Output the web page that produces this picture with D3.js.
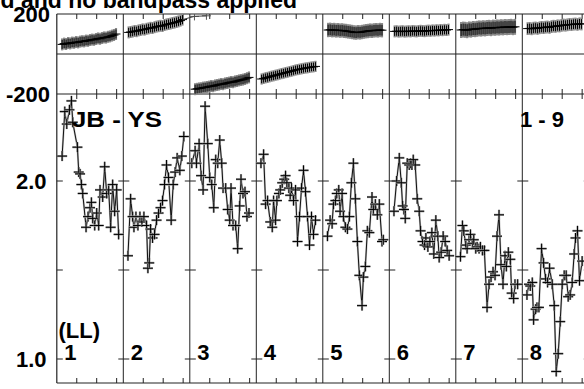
<!DOCTYPE html>
<html><head><meta charset="utf-8">
<script src="https://cdn.jsdelivr.net/npm/d3@7"></script>
<style>
body{margin:0;background:#fff}
svg{display:block}
text{font-family:"Liberation Sans",Arial,Helvetica,sans-serif;font-weight:bold;fill:#000}
</style>
</head><body><svg id="c" width="584" height="389"></svg>
<script>
// ---------- text ----------
const titleText = "d and no bandpass applied";
const baselineLabel = "JB - YS";
const channelLabel = "1 - 9";
const polLabel = "(LL)";
const panelLabels = ["1","2","3","4","5","6","7","8","9"];

// ---------- axes ----------
const phaseDomain = [-200, 200];
const phaseTickLabels = [200, -200];
const ampDomainRef = [1.0, 2.0];
const ampTicks = [1.0, 1.5, 2.0];
const ampTickLabels = [1.0, 2.0];
const timeTicks = [0.3, 0.6, 0.9];

// ---------- amplitude data: [time within panel (0-1), amplitude] ----------
const ampP1 = [[0.08,2.14],[0.12,2.39],[0.15,2.32],[0.19,2.40],[0.22,2.45],[0.24,2.33],[0.31,2.19],[0.33,2.05],[0.35,2.04],[0.37,1.98],[0.39,1.93],[0.44,1.74],[0.47,1.80],[0.50,1.85],[0.52,1.88],[0.54,1.79],[0.57,1.75],[0.60,1.82],[0.63,1.75],[0.65,1.95],[0.69,1.91],[0.72,2.08],[0.75,1.93],[0.78,1.95],[0.81,1.74],[0.84,1.98],[0.87,1.83],[0.90,1.95],[0.93,1.70]];
const ampP2 = [[0.07,1.58],[0.11,1.90],[0.14,1.80],[0.16,1.74],[0.19,1.80],[0.22,1.75],[0.25,1.80],[0.28,1.77],[0.31,1.80],[0.35,1.75],[0.37,1.51],[0.39,1.54],[0.41,1.73],[0.44,1.68],[0.47,1.70],[0.50,1.78],[0.53,1.82],[0.56,1.85],[0.59,1.89],[0.62,1.98],[0.65,2.09],[0.68,2.02],[0.72,1.78],[0.75,1.98],[0.78,2.05],[0.81,2.13],[0.85,2.06],[0.88,2.14],[0.91,2.25]];
const ampP3 = [[0.03,2.10],[0.08,2.17],[0.10,2.10],[0.14,2.21],[0.17,2.03],[0.20,1.95],[0.23,2.42],[0.27,2.21],[0.30,2.02],[0.33,1.98],[0.36,1.85],[0.39,2.12],[0.42,2.10],[0.45,2.23],[0.48,2.10],[0.50,1.96],[0.54,1.96],[0.57,1.84],[0.60,1.78],[0.62,1.96],[0.65,1.75],[0.69,1.75],[0.72,1.62],[0.75,1.86],[0.77,2.01],[0.80,1.93],[0.83,1.94],[0.86,1.80],[0.89,1.82]];
const ampP4 = [[0.07,2.10],[0.11,2.15],[0.14,1.87],[0.17,1.89],[0.21,1.77],[0.24,1.74],[0.26,1.89],[0.29,1.78],[0.31,1.89],[0.34,1.93],[0.36,1.95],[0.39,1.99],[0.42,2.01],[0.44,2.03],[0.46,1.99],[0.49,1.96],[0.51,1.92],[0.53,1.96],[0.56,1.89],[0.59,1.95],[0.62,1.66],[0.65,1.80],[0.68,1.96],[0.71,2.06],[0.74,1.94],[0.77,1.80],[0.80,1.64],[0.83,1.80],[0.86,1.70],[0.89,1.78]];
const ampP5 = [[0.07,1.69],[0.11,1.78],[0.14,1.76],[0.16,1.87],[0.19,1.89],[0.21,1.93],[0.24,1.95],[0.26,1.83],[0.29,1.93],[0.31,1.80],[0.34,1.74],[0.37,1.73],[0.40,1.80],[0.43,1.99],[0.46,2.10],[0.49,1.90],[0.52,1.66],[0.55,1.47],[0.59,1.30],[0.61,1.46],[0.64,1.52],[0.67,1.72],[0.70,1.71],[0.74,1.91],[0.76,1.84],[0.79,1.87],[0.82,1.81],[0.85,1.87],[0.89,1.66],[0.91,1.67]];
const ampP6 = [[0.07,1.83],[0.11,2.00],[0.15,2.13],[0.18,1.99],[0.20,1.86],[0.22,1.84],[0.24,1.79],[0.27,2.10],[0.30,2.09],[0.32,2.10],[0.34,2.09],[0.36,2.12],[0.39,2.09],[0.42,1.90],[0.45,1.83],[0.47,1.72],[0.50,1.66],[0.53,1.64],[0.55,1.68],[0.58,1.63],[0.61,1.66],[0.64,1.71],[0.67,1.59],[0.70,1.78],[0.73,1.69],[0.75,1.57],[0.78,1.60],[0.81,1.69],[0.84,1.66],[0.87,1.61],[0.90,1.58]];
const ampP7 = [[0.07,1.575],[0.10,1.75],[0.12,1.72],[0.15,1.64],[0.17,1.62],[0.20,1.67],[0.22,1.70],[0.25,1.65],[0.27,1.67],[0.30,1.62],[0.32,1.63],[0.35,1.62],[0.37,1.63],[0.40,1.61],[0.43,1.61],[0.47,1.29],[0.50,1.42],[0.53,1.46],[0.56,1.49],[0.59,1.47],[0.62,1.69],[0.65,1.81],[0.68,1.53],[0.71,1.42],[0.74,1.58],[0.76,1.52],[0.79,1.60],[0.82,1.56],[0.84,1.37],[0.87,1.34],[0.89,1.42],[0.93,1.42]];
const ampP8 = [[0.07,1.36],[0.10,1.42],[0.12,1.41],[0.15,1.43],[0.17,1.22],[0.20,1.28],[0.22,1.29],[0.25,1.29],[0.29,1.62],[0.32,1.54],[0.35,1.45],[0.38,1.43],[0.41,1.51],[0.45,1.42],[0.48,1.30],[0.51,0.93],[0.54,1.03],[0.57,1.21],[0.60,1.42],[0.63,1.47],[0.66,1.47],[0.69,1.35],[0.72,1.36],[0.75,1.43],[0.78,1.59],[0.80,1.68],[0.83,1.72],[0.86,1.44],[0.90,1.55]];
const ampSeries = [ampP1, ampP2, ampP3, ampP4, ampP5, ampP6, ampP7, ampP8];

// ---------- phase data (degrees), shared sampling times within each panel ----------
const phaseTimes = [0.08,0.11,0.14,0.17,0.20,0.23,0.26,0.29,0.32,0.35,0.38,0.41,0.44,0.47,0.50,0.53,0.56,0.59,0.62,0.65,0.68,0.71,0.74,0.77,0.80,0.83,0.86,0.89];
const phaseP1 = [48,52,50,55,53,57,56,60,58,62,64,63,67,66,70,72,71,75,78,76,80,83,82,86,88,92,95,100];
const phaseP2 = [108,110,112,115,114,118,120,123,122,126,128,131,130,134,137,139,141,140,145,148,150,152,155,157,160,163,167,172];
const phaseP3 = [-176,-174,-172,-171,-168,-167,-165,-163,-160,-161,-157,-155,-153,-150,-151,-147,-145,-143,-140,-141,-137,-135,-132,-130,-128,-125,-121,-117];
const phaseP4 = [-125,-122,-119,-117,-114,-111,-109,-106,-104,-101,-98,-96,-93,-91,-88,-86,-83,-80,-78,-76,-74,-72,-70,-69,-67,-65,-64,-62];
const phaseP5 = [120,121,119,120,118,119,117,118,116,115,113,112,110,108,107,109,108,110,112,114,115,117,116,118,119,118,120,119];
const phaseP6 = [113,114,112,113,114,112,113,114,113,115,114,113,115,116,115,114,116,117,116,118,117,119,118,120,119,121,120,122];
const phaseP7 = [120,122,121,119,123,122,125,124,126,128,127,129,128,130,131,129,132,131,133,132,134,133,135,134,135,136,134,136];
const phaseP8 = [127,128,126,129,130,128,131,133,132,134,135,133,137,139,138,141,140,143,145,144,146,148,147,149,150,148,151,150];
const phaseSeries = [phaseP1, phaseP2, phaseP3, phaseP4, phaseP5, phaseP6, phaseP7, phaseP8];
const phaseSigma = [30, 30, 30, 28, 36, 30, 40, 32];
const phaseWrapP3 = [[0.07,188],[0.25,191]];

// ---------- layout ----------
const svg = d3.select("#c");
const W = 584, H = 389;
const left = 56.8, pw = 66.5, nPanels = 9;
const topY = 14, midY = 94, botY = 383;

const x = d3.scaleLinear().domain([0, nPanels]).range([left, left + nPanels*pw]);
const yPh = d3.scaleLinear().domain(phaseDomain).range([midY, topY]);
const yAmp = d3.scaleLinear().domain(ampDomainRef).range([359, 181]);

svg.append("rect").attr("width", W).attr("height", H).attr("fill", "#fff");

const g = svg.append("g");
const right = x(nPanels);

// frame
const frame = g.append("g").attr("stroke", "#222").attr("stroke-width", 1.2).attr("fill","none");
frame.append("line").attr("x1", left).attr("x2", right).attr("y1", topY).attr("y2", topY);
frame.append("line").attr("x1", left).attr("x2", right).attr("y1", midY).attr("y2", midY);
frame.append("line").attr("x1", left).attr("x2", right).attr("y1", botY).attr("y2", botY);
frame.append("line").attr("x1", left).attr("x2", right).attr("y1", yPh(0)).attr("y2", yPh(0)).attr("stroke-width", 1);
d3.range(nPanels + 1).forEach(i => {
  frame.append("line").attr("x1", x(i)).attr("x2", x(i)).attr("y1", topY).attr("y2", botY)
    .attr("stroke-width", i === 0 ? 1.2 : 1);
});

// time ticks
const tk = g.append("g").attr("stroke", "#222").attr("stroke-width", 1);
d3.range(nPanels).forEach(i => {
  timeTicks.forEach(t => {
    const xx = x(i + t);
    tk.append("line").attr("x1", xx).attr("x2", xx).attr("y1", topY).attr("y2", topY + 5);
    tk.append("line").attr("x1", xx).attr("x2", xx).attr("y1", midY - 5).attr("y2", midY + 5);
    tk.append("line").attr("x1", xx).attr("x2", xx).attr("y1", botY - 5).attr("y2", botY);
  });
});
d3.range(nPanels + 1).forEach(i => {
  ampTicks.forEach(v => {
    const yy = yAmp(v);
    tk.append("line").attr("x1", i === 0 ? x(i) : x(i) - 5).attr("x2", x(i) + 6)
      .attr("y1", yy).attr("y2", yy);
  });
});

// ---------- phase ----------
const ph = g.append("g");
phaseSeries.forEach((vals, i) => {
  const pts = vals.map((v, j) => [x(i + phaseTimes[j]), yPh(v)]);
  const sig = phaseSigma[i];
  ph.append("g").attr("stroke", "#8a8a8a").attr("stroke-width", 2.2)
    .selectAll("line").data(vals).join("line")
    .attr("x1", (v, j) => x(i + phaseTimes[j])).attr("x2", (v, j) => x(i + phaseTimes[j]))
    .attr("y1", v => yPh(v + sig)).attr("y2", v => yPh(v - sig));
  ph.append("path").attr("fill", "none").attr("stroke", "#000").attr("stroke-width", 1)
    .attr("d", d3.line()(pts));
  const m = ph.append("g").attr("stroke", "#000").attr("stroke-width", 1);
  vals.forEach((v, j) => {
    const xx = x(i + phaseTimes[j]);
    m.append("line").attr("x1", xx).attr("x2", xx).attr("y1", yPh(v + sig*0.75)).attr("y2", yPh(v - sig*0.75));
    m.append("line").attr("x1", xx - 4.5).attr("x2", xx + 4.5).attr("y1", yPh(v)).attr("y2", yPh(v));
  });
});
{
  const m = ph.append("g").attr("stroke", "#555").attr("stroke-width", 1);
  phaseWrapP3.forEach(([t, v]) => {
    const xx = x(2 + t);
    m.append("line").attr("x1", xx).attr("x2", xx).attr("y1", Math.max(topY, yPh(v + 20))).attr("y2", yPh(v - 20));
    m.append("line").attr("x1", xx - 4.5).attr("x2", xx + 4.5).attr("y1", yPh(v)).attr("y2", yPh(v));
  });
  m.append("path").attr("fill","none").attr("stroke","#444")
    .attr("d", d3.line()([[x(1 + phaseTimes[phaseTimes.length-1]), yPh(phaseP2[phaseP2.length-1])]].concat(phaseWrapP3.map(([t,v]) => [x(2+t), yPh(v)]))));
}

// ---------- amplitude ----------
const am = g.append("g");
ampSeries.forEach((pts, i) => {
  const xy = pts.map(([t, a]) => [x(i + t), yAmp(a)]);
  am.append("path").attr("fill", "none").attr("stroke", "#9a9a9a").attr("stroke-width", 2)
    .attr("d", d3.line()(xy)).attr("opacity", 0.6);
  am.append("path").attr("fill", "none").attr("stroke", "#111").attr("stroke-width", 1)
    .attr("d", d3.line()(xy));
  const m = am.append("g");
  xy.forEach(([xx, yy]) => {
    [["#a0a0a0", 2.2], ["#000", 1]].forEach(([c, w]) => {
      m.append("line").attr("stroke", c).attr("stroke-width", w).attr("x1", xx - 5).attr("x2", xx + 5).attr("y1", yy).attr("y2", yy);
      m.append("line").attr("stroke", c).attr("stroke-width", w).attr("x1", xx).attr("x2", xx).attr("y1", yy - 5).attr("y2", yy + 5);
    });
  });
});

// ---------- labels ----------
const lab = svg.append("g");
lab.append("text").attr("x", 297).attr("y", 7.5).attr("text-anchor", "end")
  .attr("font-size", 23).text(titleText);
phaseTickLabels.forEach(v => {
  lab.append("text").attr("x", 50).attr("y", yPh(v) + 7.5).attr("text-anchor", "end")
    .attr("font-size", 22).text(String(v));
});
ampTickLabels.forEach(v => {
  lab.append("text").attr("x", 46.5).attr("y", yAmp(v) + 7.8).attr("text-anchor", "end")
    .attr("font-size", 22).text(v.toFixed(1));
});
lab.append("text").attr("x", 72).attr("y", 127).attr("font-size", 22.5)
  .attr("textLength", 90).attr("lengthAdjust", "spacingAndGlyphs").text(baselineLabel);
lab.append("text").attr("x", 520).attr("y", 127).attr("font-size", 22).text(channelLabel);
lab.append("text").attr("x", 58.5).attr("y", 338).attr("font-size", 22).text(polLabel);
panelLabels.forEach((s, i) => {
  const xx = x(i) + 7.5;
  if (xx + 12 < W) lab.append("text").attr("x", xx).attr("y", 360).attr("font-size", 22).text(s);
});
</script>
</body></html>
